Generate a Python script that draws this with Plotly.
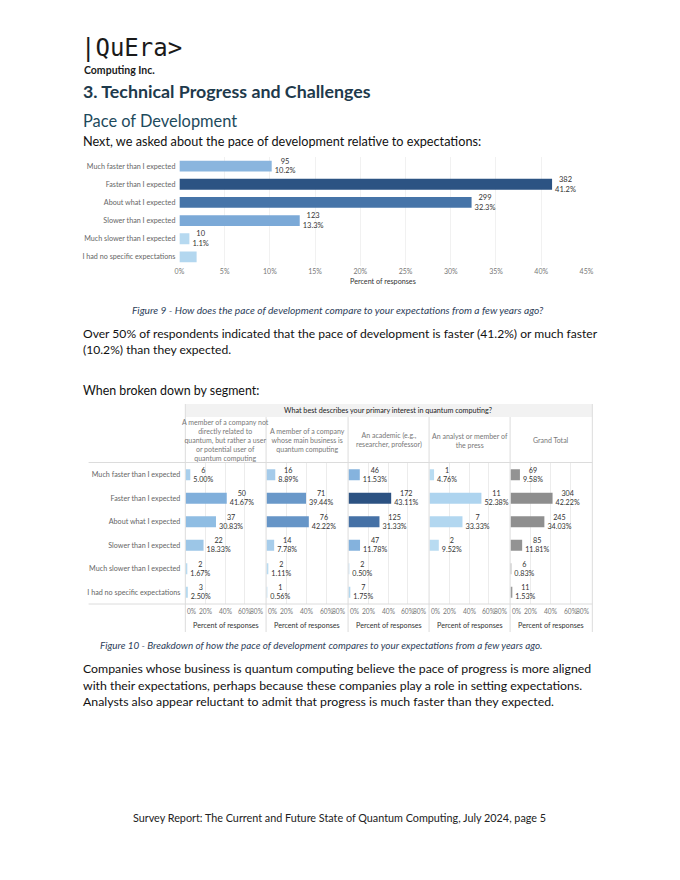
import plotly.graph_objects as go

# page is 680x880; body margin of 8px is compensated
PAGE_OFF = 8
W, H = 680 - 2 * PAGE_OFF, 880 - 2 * PAGE_OFF

# ---------------- data ----------------
categories = ["Much faster than I expected", "Faster than I expected", "About what I expected",
              "Slower than I expected", "Much slower than I expected", "I had no specific expectations"]

overall_counts = [95, 382, 299, 123, 10, 18]
overall_pct = [10.2, 41.2, 32.3, 13.3, 1.1, 1.9]
overall_show_label = [True, True, True, True, True, False]

segments = [
    "A member of a company not<br>directly related to<br>quantum, but rather a user<br>or potential user of<br>quantum computing",
    "A member of a company<br>whose main business is<br>quantum computing",
    "An academic (e.g.,<br>researcher, professor)",
    "An analyst or member of<br>the press",
    "Grand Total",
]
seg_counts = [
    [6, 50, 37, 22, 2, 3],
    [16, 71, 76, 14, 2, 1],
    [46, 172, 125, 47, 2, 7],
    [1, 11, 7, 2, None, None],
    [69, 304, 245, 85, 6, 11],
]
seg_pct = [
    [5.00, 41.67, 30.83, 18.33, 1.67, 2.50],
    [8.89, 39.44, 42.22, 7.78, 1.11, 0.56],
    [11.53, 43.11, 31.33, 11.78, 0.50, 1.75],
    [4.76, 52.38, 33.33, 9.52, None, None],
    [9.58, 42.22, 34.03, 11.81, 0.83, 1.53],
]
x_ticks_top = [0, 5, 10, 15, 20, 25, 30, 35, 40, 45]
x_ticks_seg = [0, 20, 40, 60, 80]

# ---------------- styles ----------------
overall_colors = ["#8ab5de", "#2c5383", "#4674a8", "#7ba9d7", "#b6d9f0", "#b3d7ef"]
seg_colors = [
    ["#a8cfec", "#80afdb", "#8fbde3", "#9cc6e7", "#b8dbf1", "#b6daf0"],
    ["#a5cbea", "#6998c9", "#6695c7", "#a7cdeb", "#b8dbf1", "#b9dcf2"],
    ["#85b3de", "#2c5282", "#4571a6", "#84b2dd", "#b8dbf1", "#b3d8ef"],
    ["#b9dcf2", "#aed4ef", "#b2d7f0", "#b8dbf1", "#b8dbf1", "#b8dbf1"],
    ["#939393", "#8e8e8e", "#8f8f8f", "#939393", "#a0a0a0", "#9a9a9a"],
]

BODY = "Lato"
CHART = "Lato"


def X(px):
    return (px - PAGE_OFF) / W


def Y(py):
    return 1 - (py - PAGE_OFF) / H


def pct_labels(vals):
    return [f"{v}%" for v in vals]


fig = go.Figure()

# ---- top chart ----
top_text = [f"{c}<br>{p}%" if s else "" for c, p, s in zip(overall_counts, overall_pct, overall_show_label)]
fig.add_trace(go.Bar(
    x=overall_pct, y=categories, orientation="h",
    marker=dict(color=overall_colors, line=dict(width=0)),
    text=top_text, textposition="outside", constraintext="none", cliponaxis=False,
    textfont=dict(family=CHART, size=7.5, color="#333"),
    xaxis="x", yaxis="y", showlegend=False, hoverinfo="skip",
))

# ---- segment panels ----
panel_x = [(183.5, 265.5), (266, 349), (349.5, 431.5), (432, 514), (514.5, 597)]
for i, (cnts, pcts) in enumerate(zip(seg_counts, seg_pct)):
    txt_ = [f"{c}<br>{p:.2f}%" if c is not None else "" for c, p in zip(cnts, pcts)]
    fig.add_trace(go.Bar(
        x=pcts, y=categories, orientation="h", width=0.47,
        marker=dict(color=seg_colors[i], line=dict(width=0)),
        text=txt_, textposition="outside", constraintext="none", cliponaxis=False,
        textfont=dict(family=CHART, size=7.2, color="#333"),
        xaxis=f"x{i + 2}", yaxis="y2", showlegend=False, hoverinfo="skip",
    ))

tickf = dict(family=CHART, size=7, color="#777")
layout = dict(
    width=W, height=H, margin=dict(l=0, r=0, t=0, b=0),
    paper_bgcolor="white", plot_bgcolor="white",
    bargap=0.4,
    xaxis=dict(domain=[X(177.5), X(592)], range=[0, 45], tickvals=x_ticks_top,
               ticktext=pct_labels(x_ticks_top),
               showgrid=True, gridcolor="#f1f1f1", zeroline=False,
               tickfont=tickf, anchor="y",
               title=dict(text="Percent of responses", font=dict(family=CHART, size=7.2, color="#333"),
                          standoff=4), fixedrange=True, ticks=""),
    yaxis=dict(domain=[Y(266), Y(157)], type="category", categoryarray=categories,
               autorange="reversed", tickfont=dict(family=CHART, size=7.2, color="#666"),
               showgrid=False, anchor="x", ticks="", ticklabelstandoff=3),
    yaxis2=dict(domain=[Y(604), Y(463)], type="category", categoryarray=categories,
                autorange="reversed", tickfont=dict(family=CHART, size=7.2, color="#666"),
                showgrid=False, anchor="x2", ticks="", ticklabelstandoff=4),
)
for i, (x0, x1) in enumerate(panel_x):
    layout[f"xaxis{i + 2}"] = dict(
        domain=[X(x0), X(x1)], range=[0, 81], tickvals=x_ticks_seg[1:-1],
        showticklabels=False,
        showgrid=True, gridcolor="#ececec", zeroline=False, anchor="y2",
        ticks="", fixedrange=True,
    )
fig.update_layout(**layout)

# ---- shapes (lines / header band) ----
shapes = []
line_c = "#dcdcdc"
shapes.append(dict(type="rect", xref="paper", yref="paper", x0=X(183.5), x1=X(598), y0=Y(417), y1=Y(404),
                   fillcolor="#f2f2f2", line=dict(width=0), layer="below"))
for py in (462.5, 604):
    shapes.append(dict(type="line", xref="paper", yref="paper", x0=X(85), x1=X(598), y0=Y(py), y1=Y(py),
                       line=dict(color=line_c, width=1)))
for px in (183.5, 598):
    shapes.append(dict(type="line", xref="paper", yref="paper", x0=X(px), x1=X(px), y0=Y(404), y1=Y(632),
                       line=dict(color=line_c, width=1)))
for px in (265.75, 349.25, 431.75, 514.25):
    shapes.append(dict(type="line", xref="paper", yref="paper", x0=X(px), x1=X(px), y0=Y(417), y1=Y(632),
                       line=dict(color=line_c, width=1)))
fig.update_layout(shapes=shapes)

# ---- annotations (page text) ----
ann = []


def txt(text, px, py, size, color="#111", family=BODY, xanchor="left", yanchor="middle", align="left"):
    ann.append(dict(text=text, x=X(px), y=Y(py), xref="paper", yref="paper", showarrow=False,
                    xanchor=xanchor, yanchor=yanchor, align=align,
                    font=dict(family=family, size=size, color=color)))


# panel tick labels on each panel's own x scale (first left-aligned, last right-aligned)
for i in range(len(panel_x)):
    for k, val in enumerate(x_ticks_seg):
        anchor = "left" if k == 0 else ("right" if k == len(x_ticks_seg) - 1 else "center")
        ann.append(dict(text=f"{val}%", x=val, y=Y(611), xref=f"x{i + 2}", yref="paper",
                        showarrow=False, xanchor=anchor, yanchor="middle", borderpad=0,
                        xshift=1 if anchor == "left" else (-0.5 if anchor == "right" else 0),
                        font=dict(family=CHART, size=6.6, color="#777")))

txt("|QuEra>", 75, 48, 24, "#1a1a1a", family="DejaVu Sans Mono")
txt("<b>Computing Inc.</b>", 78, 70, 10.5, "#1a1a1a")
txt("<b>3. Technical Progress and Challenges</b>", 77, 91, 17.8, "#1e3a4c")
txt("Pace of Development", 77, 120, 16.4, "#1d4a5c")
txt("Next, we asked about the pace of development relative to expectations:", 77, 141, 12.7, "#111")
txt("<i>Figure 9 - How does the pace of development compare to your expectations from a few years ago?</i>",
    338.5, 310, 10.2, "#2d3e5a", xanchor="center")
txt("Over 50% of respondents indicated that the pace of development is faster (41.2%) or much faster",
    77, 333, 12.1, "#111")
txt("(10.2%) than they expected.", 77, 350, 12.1, "#111")
txt("When broken down by segment:", 77, 390, 12.4, "#111")

# segment header
txt("What best describes your primary interest in quantum computing?", 390, 410.5, 7.2, "#222",
    family=CHART, xanchor="center")
for (x0, x1), seg in zip(panel_x, segments):
    txt(seg, (x0 + x1) / 2, 440, 7, "#777", family=CHART, xanchor="center", align="center")
    txt("Percent of responses", (x0 + x1) / 2, 625, 7.2, "#333", family=CHART, xanchor="center")

txt("<i>Figure 10 - Breakdown of how the pace of development compares to your expectations from a few years ago.</i>",
    322, 645, 9.9, "#2d3e5a", xanchor="center")
txt("Companies whose business is quantum computing believe the pace of progress is more aligned", 77, 668, 12.3)
txt("with their expectations, perhaps because these companies play a role in setting expectations.", 77, 685, 12.3)
txt("Analysts also appear reluctant to admit that progress is much faster than they expected.", 77, 701, 12.3)
txt("Survey Report: The Current and Future State of Quantum Computing, July 2024, page 5", 340, 817, 10.8,
    "#222", xanchor="center")

fig.update_layout(annotations=ann)
fig.write_html("out.html")
